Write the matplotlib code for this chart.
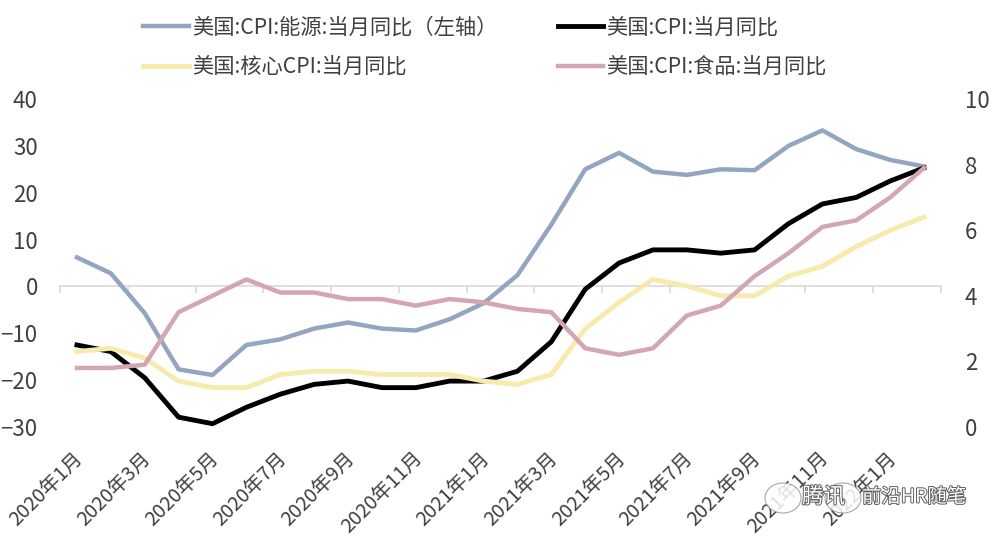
import matplotlib
matplotlib.use('Agg')
import matplotlib.pyplot as plt
import matplotlib.patheffects as pe
from matplotlib.patches import Ellipse
from matplotlib.transforms import ScaledTranslation

plt.rcParams['font.family'] = ['Noto Sans CJK SC', 'DejaVu Sans']

months = ['2020年1月', '2020年2月', '2020年3月', '2020年4月', '2020年5月', '2020年6月',
          '2020年7月', '2020年8月', '2020年9月', '2020年10月', '2020年11月', '2020年12月',
          '2021年1月', '2021年2月', '2021年3月', '2021年4月', '2021年5月', '2021年6月',
          '2021年7月', '2021年8月', '2021年9月', '2021年10月', '2021年11月', '2021年12月',
          '2022年1月', '2022年2月']

energy = [6.2, 2.8, -5.7, -17.7, -18.9, -12.5, -11.3, -9.0, -7.7, -9.0, -9.4, -7.0,
          -3.6, 2.4, 13.2, 25.0, 28.5, 24.5, 23.8, 25.0, 24.8, 30.0, 33.3, 29.3, 27.0, 25.6]
cpi = [2.5, 2.3, 1.5, 0.3, 0.1, 0.6, 1.0, 1.3, 1.4, 1.2, 1.2, 1.4, 1.4,
       1.7, 2.6, 4.2, 5.0, 5.4, 5.4, 5.3, 5.4, 6.2, 6.8, 7.0, 7.5, 7.9]
core = [2.3, 2.4, 2.1, 1.4, 1.2, 1.2, 1.6, 1.7, 1.7, 1.6, 1.6, 1.6, 1.4,
        1.3, 1.6, 3.0, 3.8, 4.5, 4.3, 4.0, 4.0, 4.6, 4.9, 5.5, 6.0, 6.4]
food = [1.8, 1.8, 1.9, 3.5, 4.0, 4.5, 4.1, 4.1, 3.9, 3.9, 3.7, 3.9, 3.8,
        3.6, 3.5, 2.4, 2.2, 2.4, 3.4, 3.7, 4.6, 5.3, 6.1, 6.3, 7.0, 7.9]

left_ticks = [-30, -20, -10, 0, 10, 20, 30, 40]
right_ticks = [0, 2, 4, 6, 8, 10]

W, H = 998, 540
TEXT = '#404040'
GRID = '#d9d9d9'

fig = plt.figure(figsize=(W / 100, H / 100), dpi=100)
ax = fig.add_axes([60 / W, 1 - 427 / H, 881 / W, 328 / H])
ax2 = ax.twinx()

x = list(range(len(months)))
l1, = ax.plot(x, energy, color='#93a5c0', lw=3.2, label='美国:CPI:能源:当月同比（左轴）')
l2, = ax2.plot(x, cpi, color='#000000', lw=3.5, label='美国:CPI:当月同比')
l3, = ax2.plot(x, core, color='#f6ebac', lw=3.5, label='美国:核心CPI:当月同比')
l4, = ax2.plot(x, food, color='#d3a6b1', lw=3.2, label='美国:CPI:食品:当月同比')

ax.set_xlim(-0.5, len(months) - 0.5)
ax.set_ylim(-30, 40)
ax2.set_ylim(0, 10)
ax.set_yticks(left_ticks)
ax2.set_yticks(right_ticks)

for a in (ax, ax2):
    for s in a.spines.values():
        s.set_visible(False)
ax.tick_params(axis='y', length=0, labelsize=16, labelcolor=TEXT, pad=16)
ax2.tick_params(axis='y', length=0, labelsize=16, labelcolor=TEXT, pad=17)

# month labels sit at the bottom, every second category
ax.set_xticks(x[::2])
ax.set_xticklabels(months[::2], rotation=45, ha='right', rotation_mode='anchor',
                   fontsize=14.3, color=TEXT)
ax.tick_params(axis='x', length=0, pad=15)
nudge = ScaledTranslation(-4 / 100, 0, fig.dpi_scale_trans)
for lab in ax.get_xticklabels():
    lab.set_transform(lab.get_transform() + nudge)

# category axis line with its ticks runs through zero
zero_axis = ax.secondary_xaxis(0, transform=ax.get_yaxis_transform())
zero_axis.set_xticks([i - 0.5 for i in range(0, len(months) + 1, 2)])
zero_axis.set_xticklabels([])
zero_axis.tick_params(axis='x', length=5, width=1.2, color=GRID)
zero_axis.spines['bottom'].set_color(GRID)
zero_axis.spines['bottom'].set_linewidth(1.2)
zero_axis.set_zorder(0)
ax.set_zorder(1)
ax2.set_zorder(2)
ax.patch.set_visible(False)
ax2.patch.set_visible(False)

fig.legend(handles=[l1, l3, l2, l4], ncol=2, loc='upper left',
           bbox_to_anchor=(137 / W, 1 - 10 / H), frameon=False, fontsize=15.3,
           labelcolor=TEXT, handlelength=2.15, handletextpad=0.15,
           columnspacing=2.83, labelspacing=0.83, borderpad=0.3, borderaxespad=0)

# WeChat account stamp lying over the last labels
for bx in (783, 843):
    fig.add_artist(Ellipse((bx / W, 1 - 498 / H), 36 / W, 30 / H, transform=fig.transFigure,
                           facecolor='white', edgecolor='#9a9a9a', lw=0.8, alpha=0.85, zorder=5))
for tx, txt, size in ((802, '腾讯', 15.5), (862, '前沿HR随笔', 14)):
    fig.text(tx / W, 1 - 497 / H, txt, fontsize=size, color='white', va='center', zorder=6,
             path_effects=[pe.withStroke(linewidth=1.4, foreground='#606060')])

fig.savefig('out.png', dpi=100)
plt.close(fig)
